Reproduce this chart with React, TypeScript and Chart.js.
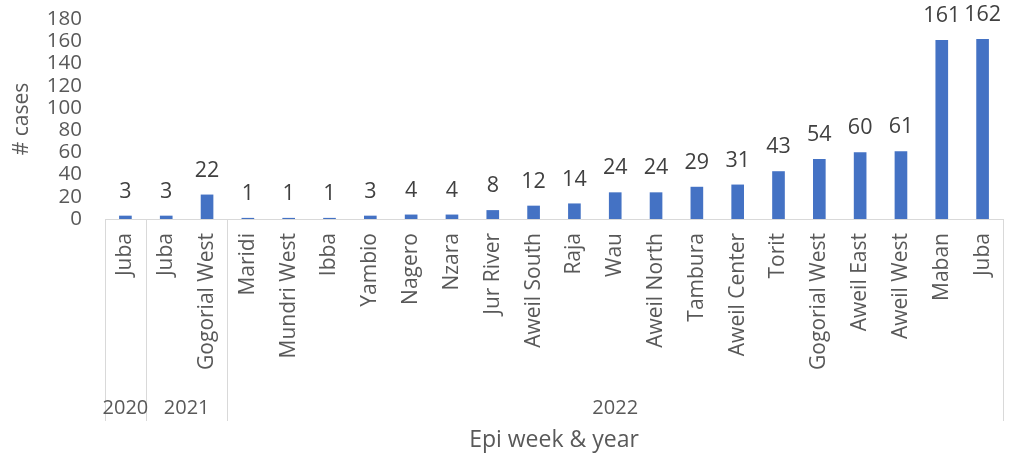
import React, { useEffect, useRef } from "react";
import { Chart, registerables } from "chart.js";

Chart.register(...registerables);

const categories = [
  "Juba", "Juba", "Gogorial West", "Maridi", "Mundri West", "Ibba", "Yambio", "Nagero",
  "Nzara", "Jur River", "Aweil South", "Raja", "Wau", "Aweil North", "Tambura",
  "Aweil Center", "Torit", "Gogorial West", "Aweil East", "Aweil West", "Maban", "Juba",
];
const cases = [3, 3, 22, 1, 1, 1, 3, 4, 4, 8, 12, 14, 24, 24, 29, 31, 43, 54, 60, 61, 161, 162];
const years = ["2020", "2021", "2022"];
const yearCounts = [1, 2, 19];
const yTitle = "# cases";
const xTitle = "Epi week & year";

const FONT = "'Open Sans', 'Liberation Sans', sans-serif";
const TEXT = "#595959";
const LINE = "#d9d9d9";

const overlay = {
  id: "overlay",
  afterDraw(chart: any) {
    const ctx = chart.ctx;
    const x = chart.scales.x;
    const area = chart.chartArea;
    const bottom = area.bottom;
    const half = (x.getPixelForValue(1) - x.getPixelForValue(0)) / 2;
    ctx.save();
    // data labels
    const meta = chart.getDatasetMeta(0);
    ctx.fillStyle = "#404040";
    ctx.font = `21.5px ${FONT}`;
    ctx.textAlign = "center";
    ctx.textBaseline = "middle";
    meta.data.forEach((bar: any, i: number) => {
      ctx.fillText(String(cases[i]), bar.x, bar.y - 24);
    });
    // axis line and group separators
    ctx.strokeStyle = LINE;
    ctx.lineWidth = 1;
    ctx.beginPath();
    ctx.moveTo(area.left, bottom + 0.5);
    ctx.lineTo(area.right, bottom + 0.5);
    let idx = 0;
    const bounds = [0];
    yearCounts.forEach((c) => { idx += c; bounds.push(idx); });
    bounds.forEach((b) => {
      const px = Math.round(x.getPixelForValue(b) - half) + 0.5;
      ctx.moveTo(px, bottom);
      ctx.lineTo(px, 421);
    });
    ctx.stroke();
    // category labels
    ctx.fillStyle = TEXT;
    ctx.font = `21px ${FONT}`;
    categories.forEach((lab, i) => {
      const px = x.getPixelForValue(i);
      ctx.save();
      ctx.translate(px, bottom + 14);
      ctx.rotate(-Math.PI / 2);
      ctx.textAlign = "right";
      ctx.textBaseline = "middle";
      ctx.fillText(lab, 0, 0);
      ctx.restore();
    });
    // year labels
    ctx.font = `20px ${FONT}`;
    ctx.textAlign = "center";
    ctx.textBaseline = "middle";
    idx = 0;
    years.forEach((y, k) => {
      const l = x.getPixelForValue(idx) - half;
      const r = x.getPixelForValue(idx + yearCounts[k] - 1) + half;
      ctx.fillText(y, (l + r) / 2, 408);
      idx += yearCounts[k];
    });
    // axis titles
    ctx.font = `23px ${FONT}`;
    ctx.fillText(xTitle, (area.left + area.right) / 2, 440);
    ctx.font = `21px ${FONT}`;
    ctx.save();
    ctx.translate(22, (area.top + area.bottom) / 2);
    ctx.rotate(-Math.PI / 2);
    ctx.fillText(yTitle, 0, 0);
    ctx.restore();
    ctx.restore();
  },
};

export default function App() {
  const ref = useRef<HTMLCanvasElement>(null);
  useEffect(() => {
    document.body.style.margin = "0";
    const chart = new Chart(ref.current!, {
      type: "bar",
      data: {
        labels: categories,
        datasets: [
          {
            data: cases,
            backgroundColor: "#4472C4",
            barPercentage: 0.31,
            categoryPercentage: 1,
          },
        ],
      },
      options: {
        animation: false,
        responsive: false,
        layout: { padding: { top: 19, right: 8, left: 0, bottom: 0 } },
        plugins: { legend: { display: false }, tooltip: { enabled: false } },
        scales: {
          x: {
            ticks: { display: false },
            grid: { display: false, drawTicks: false },
            border: { display: false },
            afterFit: (s: any) => {
              s.height = 236;
              s.paddingLeft = 0;
              s.paddingRight = 0;
            },
          },
          y: {
            min: 0,
            max: 180,
            ticks: {
              stepSize: 20,
              autoSkip: false,
              color: TEXT,
              font: { size: 20.5, family: FONT },
              padding: 23,
            },
            grid: { display: false, drawTicks: false },
            border: { display: false },
            afterFit: (s: any) => {
              s.width = 105;
              s.paddingTop = 0;
              s.paddingBottom = 0;
            },
          },
        },
      },
      plugins: [overlay],
    });
    return () => chart.destroy();
  }, []);
  return (
    <div style={{ position: "absolute", left: 0, top: 0, width: 1011, height: 455 }}>
      <canvas ref={ref} width={1011} height={455} style={{ display: "block" }} />
    </div>
  );
}
